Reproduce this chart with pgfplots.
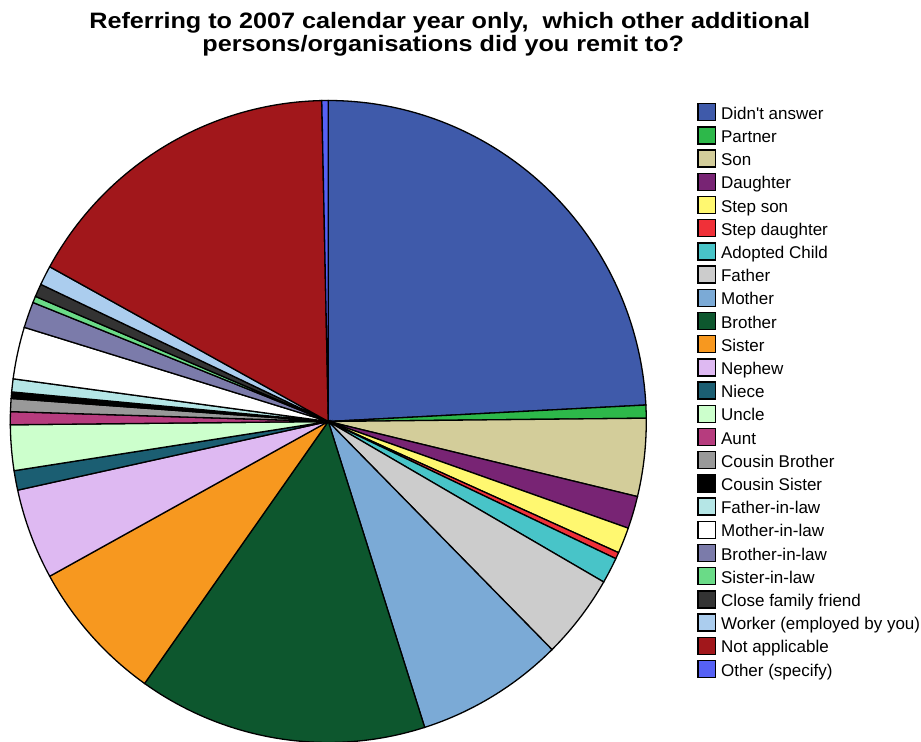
\documentclass[border=0pt]{standalone}
\usepackage{pgfplots}
\pgfplotsset{compat=1.18}
\usepackage{fontspec}
\setmainfont{Liberation Sans}[Ligatures=TeXOff]
\newfontfamily\titlefont[FakeStretch=1.13]{Liberation Sans Bold}
\definecolor{c1}{HTML}{3F5AAA}
\definecolor{c2}{HTML}{2DB84A}
\definecolor{c3}{HTML}{D3CD9A}
\definecolor{c4}{HTML}{782474}
\definecolor{c5}{HTML}{FFF870}
\definecolor{c6}{HTML}{F03038}
\definecolor{c7}{HTML}{48C4C8}
\definecolor{c8}{HTML}{CCCCCC}
\definecolor{c9}{HTML}{7BAAD6}
\definecolor{c10}{HTML}{0D572E}
\definecolor{c11}{HTML}{F7981F}
\definecolor{c12}{HTML}{DEB9F2}
\definecolor{c13}{HTML}{1B5E72}
\definecolor{c14}{HTML}{CCFFCC}
\definecolor{c15}{HTML}{B63C7E}
\definecolor{c16}{HTML}{999999}
\definecolor{c17}{HTML}{000000}
\definecolor{c18}{HTML}{B5E6E6}
\definecolor{c19}{HTML}{FFFFFF}
\definecolor{c20}{HTML}{7B7BAA}
\definecolor{c21}{HTML}{6ADB87}
\definecolor{c22}{HTML}{333333}
\definecolor{c23}{HTML}{ABCDEE}
\definecolor{c24}{HTML}{A1171B}
\definecolor{c25}{HTML}{5661F5}
\begin{document}
\begin{tikzpicture}
\begin{axis}[
  x=1bp, y=1bp, xmin=0, xmax=921, ymin=0, ymax=742,
  hide axis,
  legend cell align=left,
  legend style={draw=none, fill=none, at={(0.7571,0.8644)}, anchor=north west,
    inner sep=0pt, outer sep=0pt, row sep=0pt, column sep=5bp,
    font=\fontsize{17bp}{20bp}\selectfont,
    nodes={inner sep=0pt, text height=18.7bp, text depth=4.5bp}},
  legend image code/.code={\draw[#1, draw=black, line width=1.3bp] (0bp,-8.5bp) rectangle (17.5bp,8.5bp);},
  slice/.style={draw=black, line width=1.3bp},
]
\xdef\curang{90}
\foreach \v/\c/\n in {74/c1/Didn't answer, 2/c2/Partner, 12/c3/Son, 5/c4/Daughter,
  4/c5/Step son, 1/c6/Step daughter, 4/c7/Adopted Child, 13/c8/Father, 23/c9/Mother,
  45/c10/Brother, 22/c11/Sister, 14/c12/Nephew, 3/c13/Niece, 7/c14/Uncle, 2/c15/Aunt,
  2/c16/Cousin Brother, 1/c17/Cousin Sister, 2/c18/Father-in-law, 8/c19/Mother-in-law,
  4/c20/Brother-in-law, 1/c21/Sister-in-law, 2/c22/Close family friend,
  3/c23/Worker (employed by you), 51/c24/Not applicable, 1/c25/Other (specify)}{
  \pgfmathsetmacro\newang{\curang-\v*(360/306)}
  \pgfmathtruncatemacro\ns{max(4,\v+3)}
  \edef\doplot{\noexpand\addplot[slice, fill=\c, domain=\newang:\curang, samples=\ns]
    ({328.3+318*cos(x)},{320.5+321*sin(x)}) -- (axis cs:328.3,320.5) -- cycle;
    \noexpand\addlegendentry{\n}}
  \doplot
  \xdef\curang{\newang}
}
\node[anchor=base, font=\titlefont\fontsize{22.3bp}{25bp}\selectfont, inner sep=0pt] at (axis cs:449.7,713) {Referring to 2007 calendar year only,\ \ which other additional};
\node[anchor=base, font=\titlefont\fontsize{22.3bp}{25bp}\selectfont, inner sep=0pt] at (axis cs:443.3,690.5) {persons/organisations did you remit to?};
\end{axis}
\path (current axis.south west) rectangle (current axis.north east);
\end{tikzpicture}
\end{document}
